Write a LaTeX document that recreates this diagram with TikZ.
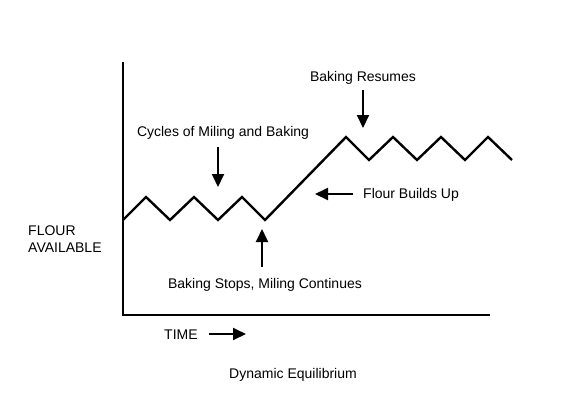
\documentclass[tikz,border=0pt]{standalone}
\usepackage{fontspec}
\setmainfont{Liberation Sans}
\usetikzlibrary{arrows.meta, positioning}

\begin{document}
\begin{tikzpicture}[
        x=1pt, y=-1pt,
        axis/.style={line width=2.6pt, line join=miter},
        zig/.style={line width=2.4pt, line join=miter},
        arrow/.style={-{Triangle[length=13pt, width=12pt]}, line width=1.9pt},
        lbl/.style={font=\fontsize{14}{17}\selectfont, inner sep=0pt, align=left},
    ]
    \useasboundingbox (0,0) rectangle (587,413);

    % axes
    \coordinate (top) at (123,62);
    \coordinate (origin) at (123,315);
    \coordinate (right) at (490,315);
    \draw[axis] (top) -- (origin) -- (right);

    % flour level
    \draw[zig] (123,220) -- (146,197) -- (170,220) -- (194,197) -- (218,220)
        -- (242,197) -- (265,220) coordinate (low)
        -- (346,137) -- (369,160) -- (393,137) -- (417,160) -- (441,137)
        -- (465,160) -- (488,137) -- (512,160);

    % labels and arrows
    \node[lbl] (cycles) at (223,133) {Cycles of Miling and Baking};
    \coordinate (cyctail) at (218,147);
    \coordinate (cyctip) at (218,187);
    \draw[arrow] (cyctail) -- (cyctip);

    \node[lbl] (resumes) at (363,78) {Baking Resumes};
    \coordinate (restail) at (363,90);
    \coordinate (restip) at (363,128);
    \draw[arrow] (restail) -- (restip);

    \node[lbl, anchor=west] (builds) at (363,195) {Flour Builds Up};
    \coordinate (bldtail) at (353,194);
    \coordinate (bldtip) at (315,194);
    \draw[arrow] (bldtail) -- (bldtip);

    \node[lbl] (stops) at (265,285) {Baking Stops, Miling Continues};
    \coordinate (stptail) at (262,267);
    \coordinate (stptip) at (262,229);
    \draw[arrow] (stptail) -- (stptip);

    % axis titles
    \node[lbl, anchor=west] (flour) at (28,239) {FLOUR\\AVAILABLE};
    \node[lbl, anchor=west] (time) at (164,335) {TIME};
    \coordinate (timetip) at (246,334);
    \draw[arrow] ([xshift=11pt]time.east |- timetip) -- (timetip);

    % caption
    \node[lbl] (caption) at (293,375) {Dynamic Equilibrium};
\end{tikzpicture}
\end{document}
